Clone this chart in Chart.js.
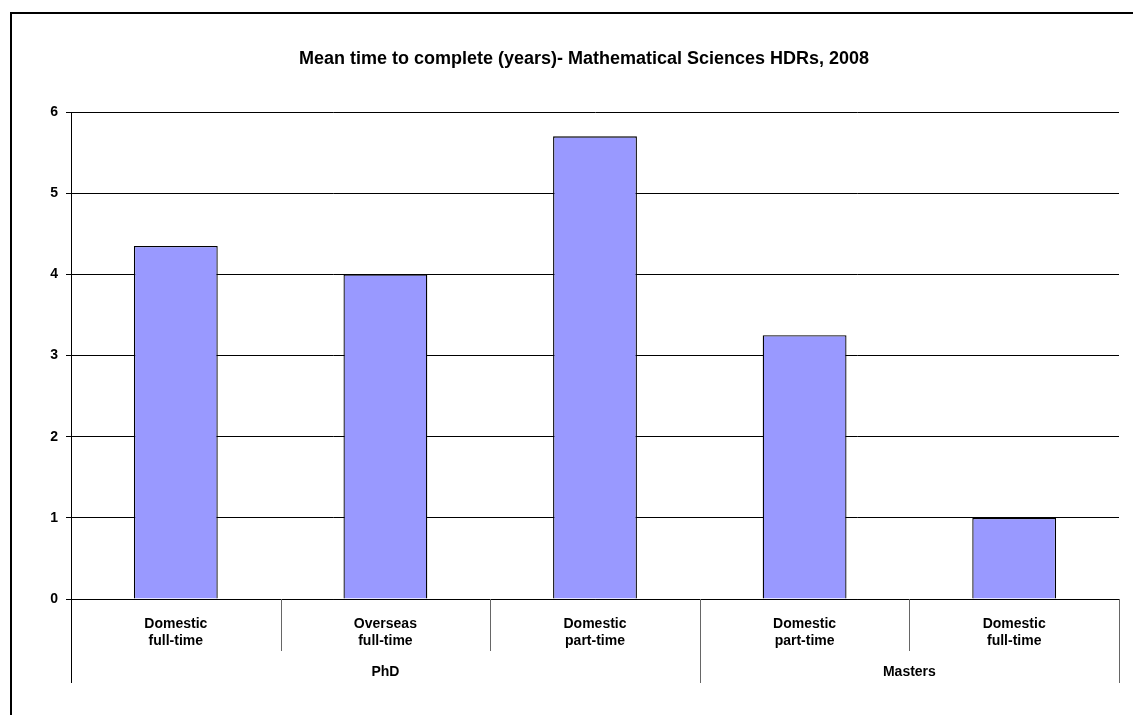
<!DOCTYPE html>
<html lang="en">
<head>
<meta charset="UTF-8">
<title>Mean time to complete (years) - Mathematical Sciences HDRs, 2008</title>
<script src="https://cdn.jsdelivr.net/npm/chart.js"></script>
<style>
    body { margin: 0; background: #fff; }
    #wrap { position: relative; width: 1133px; height: 715px; }
</style>
</head>
<body>
<div id="wrap"><canvas id="chart"></canvas></div>
<script>
// Data
const categories = [
    ['Domestic', 'full-time'],
    ['Overseas', 'full-time'],
    ['Domestic', 'part-time'],
    ['Domestic', 'part-time'],
    ['Domestic', 'full-time']
];
const groupNames = ['PhD', 'Masters'];
const groupSizes = [3, 2];
const meanYears = [4.35, 4.0, 5.7, 3.25, 1.0];
const yMin = 0;
const yMax = 6;
const yStep = 1;
const chartTitle = 'Mean time to complete (years)- Mathematical Sciences HDRs, 2008';

const FONT = '"Liberation Sans", Arial, sans-serif';

// Frame, title, category separators and group labels
const decor = {
    id: 'decor',
    afterDraw(chart) {
        const ctx = chart.ctx;
        const xs = chart.scales.x;
        const area = chart.chartArea;
        ctx.save();

        // outer frame (cut off at the right and bottom like the original)
        ctx.strokeStyle = '#000';
        ctx.lineWidth = 2;
        ctx.beginPath();
        ctx.moveTo(11, chart.height);
        ctx.lineTo(11, 13);
        ctx.lineTo(chart.width, 13);
        ctx.stroke();

        // title
        ctx.fillStyle = '#000';
        ctx.font = 'bold 18px ' + FONT;
        ctx.textAlign = 'center';
        ctx.textBaseline = 'middle';
        ctx.fillText(chartTitle, 584, 59);

        // boundaries between categories
        const n = categories.length;
        const bound = [];
        for (let i = 0; i <= n; i++) {
            if (i === 0) bound.push(area.left);
            else if (i === n) bound.push(area.right);
            else bound.push((xs.getPixelForValue(i - 1) + xs.getPixelForValue(i)) / 2);
        }
        const groupEdges = [0];
        groupSizes.forEach(s => groupEdges.push(groupEdges[groupEdges.length - 1] + s));

        ctx.lineWidth = 1;
        for (let i = 0; i <= n; i++) {
            const isGroup = groupEdges.includes(i);
            const x = Math.round(bound[i]) + 0.5;
            ctx.strokeStyle = i === 0 ? '#000' : '#666';
            ctx.beginPath();
            ctx.moveTo(x, area.bottom);
            ctx.lineTo(x, area.bottom + (isGroup ? 84 : 52));
            ctx.stroke();
        }

        // group labels
        ctx.font = 'bold 14px ' + FONT;
        ctx.fillStyle = '#000';
        for (let g = 0; g < groupNames.length; g++) {
            const x0 = bound[groupEdges[g]];
            const x1 = bound[groupEdges[g + 1]];
            ctx.fillText(groupNames[g], (x0 + x1) / 2, area.bottom + 73);
        }
        ctx.restore();
    }
};

new Chart(document.getElementById('chart'), {
    type: 'bar',
    data: {
        labels: categories,
        datasets: [{
            data: meanYears,
            backgroundColor: '#9999FF',
            borderColor: '#000',
            borderWidth: 1.3,
            barPercentage: 0.4,
            categoryPercentage: 1.0
        }]
    },
    options: {
        responsive: true,
        maintainAspectRatio: false,
        animation: false,
        layout: { padding: { top: 112, right: 14, left: 0, bottom: 0 } },
        plugins: {
            legend: { display: false },
            title: { display: false },
            tooltip: { enabled: false }
        },
        scales: {
            x: {
                grid: { display: false },
                border: { display: true, color: '#000', width: 1 },
                ticks: {
                    color: '#000',
                    font: { family: FONT, size: 14, weight: 'bold', lineHeight: 1.25 },
                    padding: 8,
                    maxRotation: 0,
                    autoSkip: false
                },
                afterFit(scale) { scale.height = 116; }
            },
            y: {
                min: yMin,
                max: yMax,
                grid: { color: '#000', lineWidth: 1, tickLength: 5 },
                border: { display: true, color: '#000', width: 1 },
                ticks: {
                    stepSize: yStep,
                    color: '#000',
                    padding: 8,
                    font: { family: FONT, size: 14, weight: 'bold' }
                },
                afterFit(scale) { scale.width = 71; }
            }
        }
    },
    plugins: [decor]
});
</script>
</body>
</html>
